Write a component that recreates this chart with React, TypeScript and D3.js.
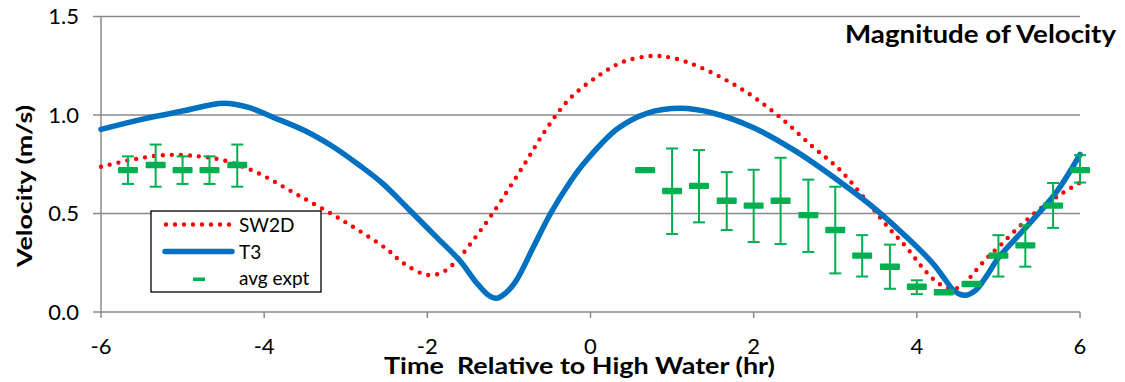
import React from "react";
import * as d3 from "d3";

// Chart data: time relative to high water (hr) and velocity magnitude (m/s)
const sw2dHours = [-6, -5.6, -5.2, -4.8, -4.5, -4.1, -3.6, -3.0, -2.5, -2.3, -2.0, -1.8, -1.6, -1.4, -1.2, -0.83, -0.54, -0.25, 0.1, 0.4, 0.76, 1.0, 1.33, 1.87, 2.32, 2.72, 3.06, 3.67, 3.87, 4.04, 4.15, 4.25, 4.4, 4.55, 4.7, 4.85, 5.02, 5.26, 5.5, 5.79, 6.0];
const sw2dVel = [0.737, 0.775, 0.797, 0.79, 0.77, 0.71, 0.597, 0.455, 0.32, 0.25, 0.188, 0.205, 0.28, 0.385, 0.5, 0.737, 0.93, 1.085, 1.2, 1.27, 1.3, 1.29, 1.245, 1.127, 0.99, 0.84, 0.72, 0.42, 0.33, 0.24, 0.188, 0.15, 0.12, 0.13, 0.2, 0.27, 0.337, 0.435, 0.52, 0.605, 0.657];

const t3Hours = [-6, -5.5, -5.0, -4.5, -4.2, -3.9, -3.5, -3.16, -2.85, -2.55, -2.2, -1.9, -1.6, -1.4, -1.25, -1.15, -1.03, -0.91, -0.7, -0.49, -0.25, -0.08, 0.33, 0.7, 1.1, 1.5, 2.0, 2.5, 3.06, 3.5, 3.9, 4.2, 4.35, 4.45, 4.59, 4.72, 4.85, 5.0, 5.35, 5.72, 6.0];
const t3Vel = [0.927, 0.978, 1.02, 1.06, 1.04, 0.99, 0.92, 0.84, 0.75, 0.653, 0.51, 0.385, 0.26, 0.15, 0.085, 0.07, 0.1, 0.16, 0.33, 0.5, 0.66, 0.755, 0.93, 1.01, 1.034, 1.01, 0.935, 0.82, 0.66, 0.52, 0.37, 0.245, 0.163, 0.11, 0.085, 0.11, 0.18, 0.275, 0.435, 0.614, 0.8];

const exptHours = [-5.67, -5.33, -5.0, -4.67, -4.33, 0.67, 1.0, 1.33, 1.67, 2.0, 2.33, 2.67, 3.0, 3.33, 3.67, 4.0, 4.33, 4.67, 5.0, 5.33, 5.67, 6.0];
const exptAvg = [0.72, 0.746, 0.72, 0.72, 0.746, 0.72, 0.614, 0.64, 0.565, 0.54, 0.565, 0.492, 0.416, 0.286, 0.23, 0.128, 0.1, 0.142, 0.286, 0.338, 0.54, 0.72];
const exptLow = [0.65, 0.636, 0.65, 0.65, 0.636, 0.72, 0.396, 0.455, 0.416, 0.355, 0.345, 0.305, 0.196, 0.18, 0.118, 0.091, 0.1, 0.142, 0.18, 0.23, 0.427, 0.657];
const exptHigh = [0.79, 0.85, 0.79, 0.79, 0.85, 0.72, 0.83, 0.822, 0.71, 0.722, 0.783, 0.672, 0.636, 0.39, 0.342, 0.161, 0.1, 0.142, 0.39, 0.44, 0.655, 0.796];

const yTicks = [0, 0.5, 1.0, 1.5];
const xTicks = [-6, -4, -2, 0, 2, 4, 6];

const seriesNames = ["SW2D", "T3", "avg expt"];

const RED = "#ff0000";
const BLUE = "#0070c0";
const GREEN = "#00b050";
const GRID = "#8a8a8a";
const FONT = "Lato, 'Open Sans', sans-serif";

export default function App() {
  const W = 1125;
  const H = 382;
  const x = d3.scaleLinear().domain([-6, 6]).range([101, 1080]);
  const y = d3.scaleLinear().domain([0, 1.5]).range([312, 16.5]);

  const line = d3
    .line<[number, number]>()
    .x((d) => x(d[0]))
    .y((d) => y(d[1]))
    .curve(d3.curveCatmullRom.alpha(0.5));

  const sw2dPath = line(sw2dHours.map((h, i) => [h, sw2dVel[i]]) as [number, number][]) || "";
  const t3Path = line(t3Hours.map((h, i) => [h, t3Vel[i]]) as [number, number][]) || "";

  const fmtY = d3.format(".1f");

  return (
    <svg
      width={W}
      height={H}
      style={{ position: "absolute", left: 0, top: 0, background: "#fff" }}
      fontFamily={FONT}
    >
      {/* horizontal gridlines with left tick marks */}
      {yTicks.map((t) => (
        <line key={"g" + t} x1={93} x2={x(6)} y1={y(t)} y2={y(t)} stroke={GRID} strokeWidth={1.5} />
      ))}
      {/* vertical axis */}
      <line x1={x(-6)} x2={x(-6)} y1={y(1.5)} y2={y(0)} stroke={GRID} strokeWidth={1.5} />
      {/* x ticks */}
      {xTicks.map((t) => (
        <line key={"xt" + t} x1={x(t)} x2={x(t)} y1={y(0)} y2={y(0) + 6} stroke={GRID} strokeWidth={1.5} />
      ))}

      {/* y tick labels */}
      {yTicks.map((t) => (
        <text key={"yl" + t} x={79} y={y(t)} dy="0.36em" textAnchor="end" fontSize={22} fill="#000">
          {fmtY(t)}
        </text>
      ))}
      {/* x tick labels */}
      {xTicks.map((t) => (
        <text key={"xl" + t} x={x(t)} y={354} textAnchor="middle" fontSize={22} fill="#000">
          {t}
        </text>
      ))}

      {/* model curves */}
      <path d={sw2dPath} fill="none" stroke={RED} strokeWidth={4.4} strokeDasharray="0 9" strokeLinecap="round" />
      <path d={t3Path} fill="none" stroke={BLUE} strokeWidth={5.5} strokeLinecap="round" strokeLinejoin="round" />

      {/* experimental averages with error bars */}
      {exptHours.map((h, i) => {
        const cx = x(h);
        const hasBar = exptHigh[i] - exptLow[i] > 0.001;
        return (
          <g key={"e" + i}>
            {hasBar && (
              <g stroke={GREEN} strokeWidth={2}>
                <line x1={cx} x2={cx} y1={y(exptHigh[i])} y2={y(exptLow[i])} />
                <line x1={cx - 6} x2={cx + 6} y1={y(exptHigh[i])} y2={y(exptHigh[i])} />
                <line x1={cx - 6} x2={cx + 6} y1={y(exptLow[i])} y2={y(exptLow[i])} />
              </g>
            )}
            <rect x={cx - 10} y={y(exptAvg[i]) - 3.2} width={20} height={6.4} rx={1} fill={GREEN} />
          </g>
        );
      })}

      {/* legend */}
      <g>
        <rect x={151} y={211} width={170} height={81} fill="#fff" stroke="#000" strokeWidth={1.3} />
        <line x1={166} x2={230} y1={224.5} y2={224.5} stroke={RED} strokeWidth={4.4} strokeDasharray="0 9" strokeLinecap="round" />
        <line x1={165} x2={232} y1={251.5} y2={251.5} stroke={BLUE} strokeWidth={5.5} strokeLinecap="round" />
        <rect x={193} y={277.5} width={12} height={3.5} fill={GREEN} />
        <text x={239} y={231.5} fontSize={19} fill="#000">{seriesNames[0]}</text>
        <text x={239} y={258.5} fontSize={19} fill="#000">{seriesNames[1]}</text>
        <text x={239} y={285} fontSize={19} fill="#000">{seriesNames[2]}</text>
      </g>

      {/* titles */}
      <text x={845} y={43} fontSize={24} fontWeight="bold" fill="#000" textLength={271} lengthAdjust="spacingAndGlyphs">
        Magnitude of Velocity
      </text>
      <text x={384} y={374} fontSize={22} fontWeight="bold" fill="#000" textLength={391} lengthAdjust="spacingAndGlyphs" xmlSpace="preserve">
        Time  Relative to High Water (hr)
      </text>
      <text
        transform="translate(32,186) rotate(-90)"
        textAnchor="middle"
        fontSize={21}
        fontWeight="bold"
        fill="#000"
        textLength={162}
        lengthAdjust="spacingAndGlyphs"
      >
        Velocity (m/s)
      </text>
    </svg>
  );
}
